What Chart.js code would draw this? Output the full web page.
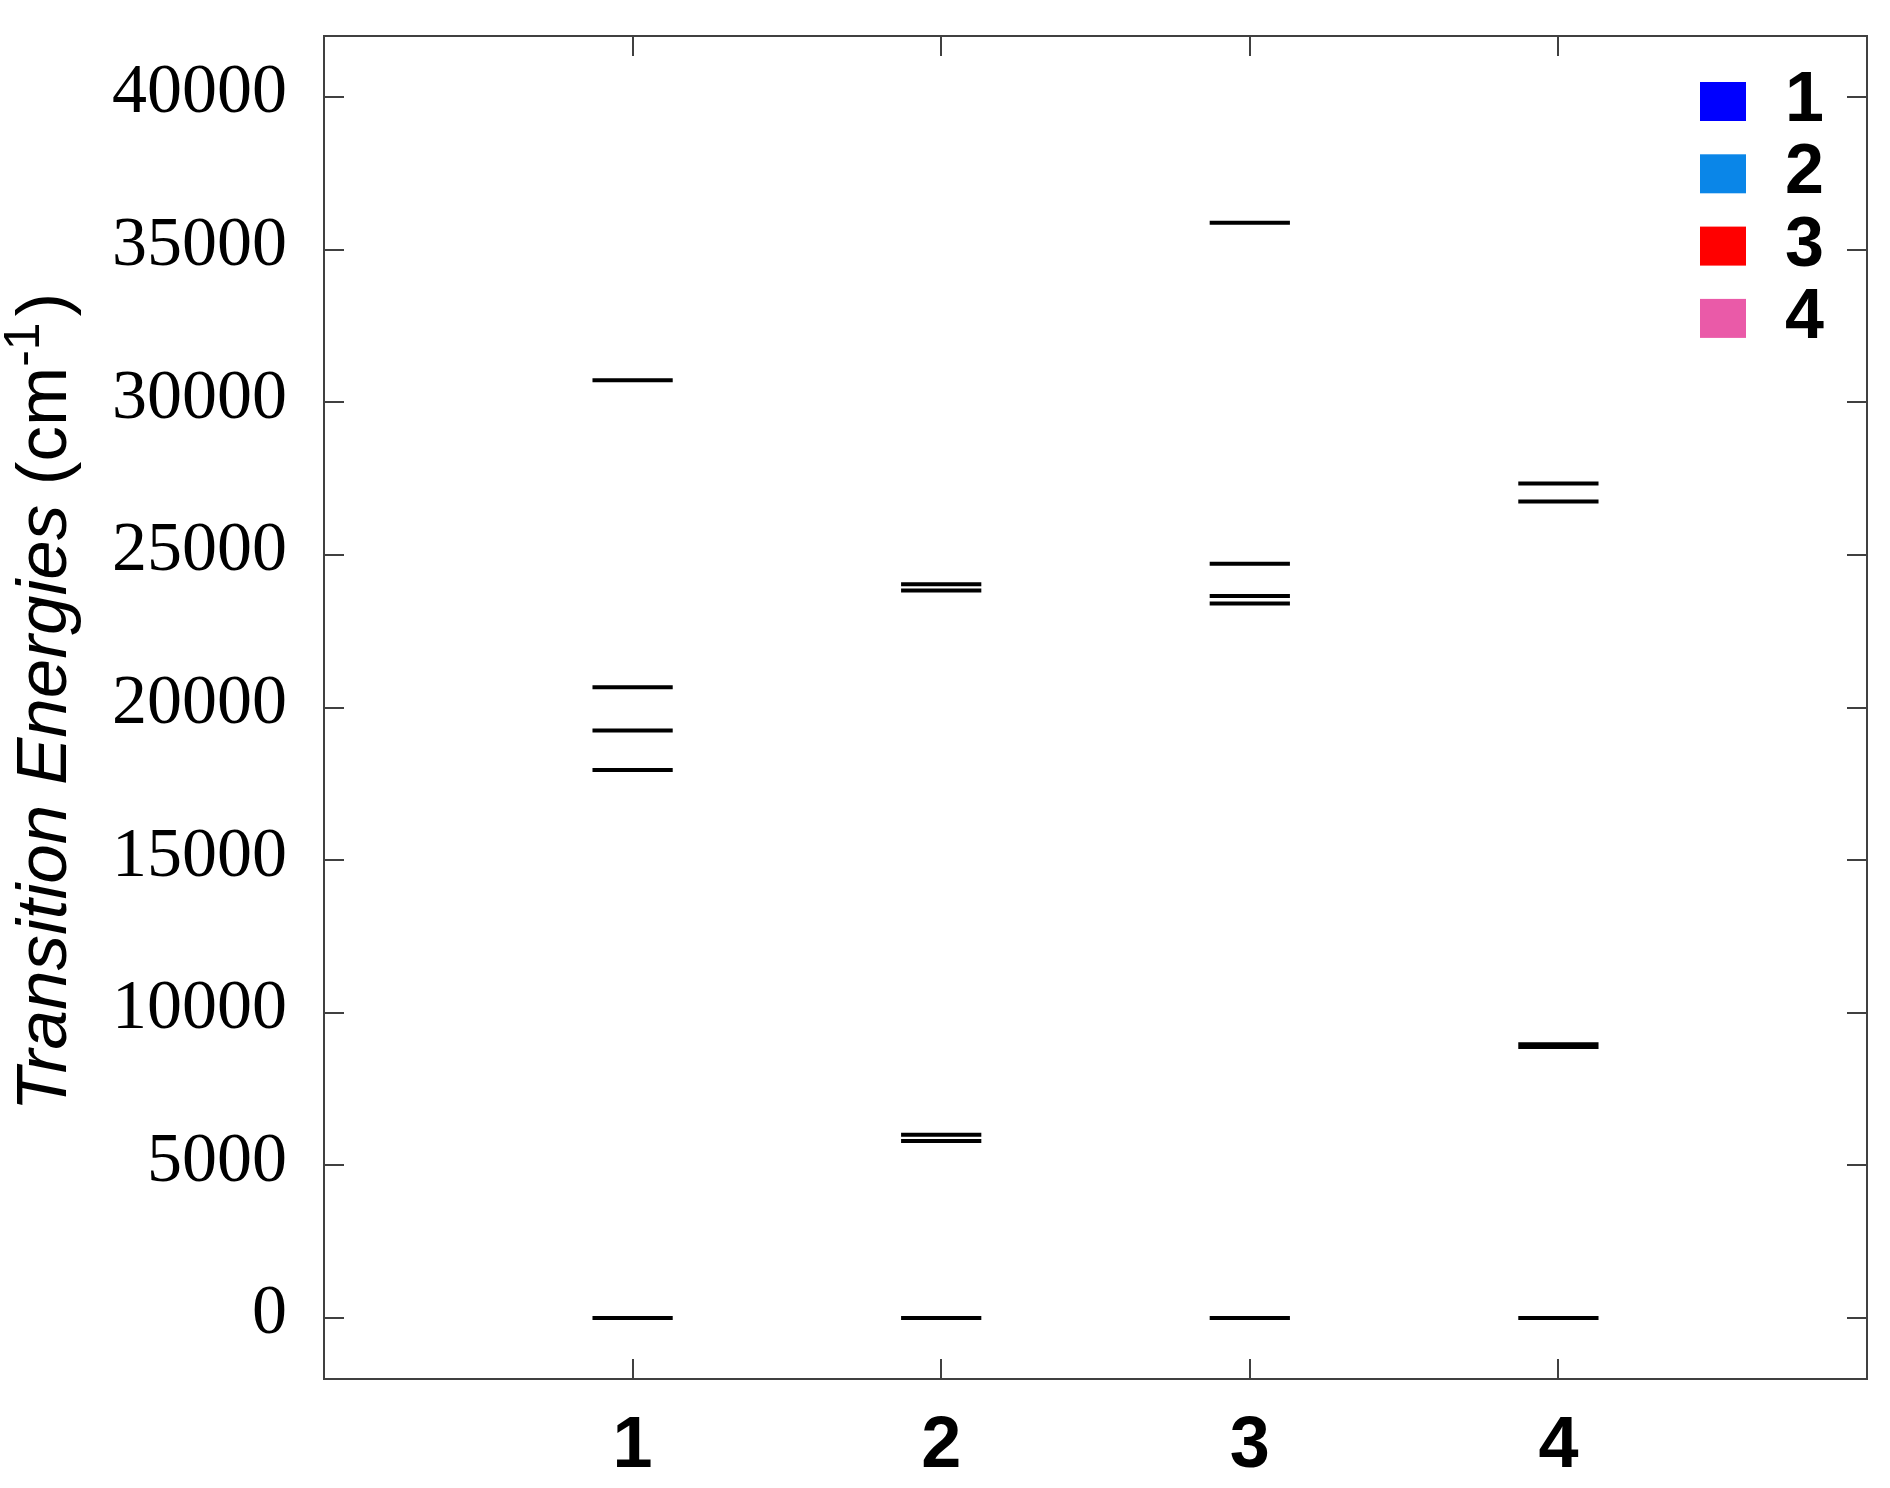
<!DOCTYPE html>
<html><head><meta charset="utf-8">
<script src="https://cdn.jsdelivr.net/npm/chart.js@4.4.1/dist/chart.umd.min.js"></script>
<style>html,body{margin:0;padding:0;background:#fff}canvas{display:block}</style>
</head><body>
<canvas id="c" width="1890" height="1488"></canvas>
<script>
// ---- data ----
const categories = ['1', '2', '3', '4'];
const xTickValues = [1, 2, 3, 4];
const yTickValues = [0, 5000, 10000, 15000, 20000, 25000, 30000, 35000, 40000];
const levels1 = [0, 17950, 19250, 20660, 30720];
const levels2 = [0, 5800, 6000, 23830, 24040];
const levels3 = [0, 23410, 23650, 24710, 35880];
const levels4 = [0, 8880, 8970, 26750, 27340];
const seriesLabels = ['1', '2', '3', '4'];
const seriesColors = ['#0000ff', '#0a86e8', '#ff0000', '#ea5aa8'];
const yTitleMain = 'Transition Energies';
const yTitleUnit = ' (cm';
const yTitleSup = '-1';
const yTitleEnd = ')';

const allLevels = [levels1, levels2, levels3, levels4];
const HALF = 0.13; // half width of a level line, in x units

function levelPoints(xc, vals) {
  const pts = [];
  vals.forEach(v => {
    pts.push({x: xc - HALF, y: v});
    pts.push({x: xc + HALF, y: v});
    pts.push({x: xc, y: null});
  });
  return pts;
}

const datasets = allLevels.map((vals, i) => ({
  label: seriesLabels[i],
  legendColor: seriesColors[i],
  data: levelPoints(xTickValues[i], vals),
  showLine: true,
  spanGaps: false,
  borderColor: '#000',
  borderWidth: 4,
  pointRadius: 0,
  pointHoverRadius: 0,
  borderCapStyle: 'butt'
}));

const framePlugin = {
  id: 'frame',
  afterDraw(chart) {
    const {ctx, chartArea: a, scales: {x, y}} = chart;
    ctx.save();
    ctx.strokeStyle = '#404040';
    ctx.lineWidth = 2;
    ctx.strokeRect(a.left, a.top, a.right - a.left, a.bottom - a.top);
    ctx.beginPath();
    const TL = 20;
    x.ticks.forEach(t => {
      const px = Math.round(x.getPixelForValue(t.value));
      ctx.moveTo(px, a.bottom); ctx.lineTo(px, a.bottom - TL);
      ctx.moveTo(px, a.top); ctx.lineTo(px, a.top + TL);
    });
    y.ticks.forEach(t => {
      const py = Math.round(y.getPixelForValue(t.value));
      ctx.moveTo(a.left, py); ctx.lineTo(a.left + TL, py);
      ctx.moveTo(a.right, py); ctx.lineTo(a.right - TL, py);
    });
    ctx.stroke();
    ctx.restore();
  }
};

const legendPlugin = {
  id: 'customLegend',
  afterDraw(chart) {
    const {ctx, chartArea: a} = chart;
    ctx.save();
    const boxW = 46, boxH = 39, step = 72.3;
    const boxX = a.right - 167;
    const firstBottom = a.top + 85;
    ctx.font = 'bold 70px "Liberation Sans", Arial, sans-serif';
    ctx.textAlign = 'left';
    ctx.textBaseline = 'alphabetic';
    chart.data.datasets.forEach((ds, i) => {
      const bottom = firstBottom + i * step;
      ctx.fillStyle = ds.legendColor;
      ctx.fillRect(boxX, bottom - boxH, boxW, boxH);
      ctx.fillStyle = '#000';
      ctx.fillText(ds.label, boxX + 85, bottom);
    });
    ctx.restore();
  }
};

const yTitlePlugin = {
  id: 'yTitle',
  afterDraw(chart) {
    const {ctx} = chart;
    const cy = 702, baseX = 66;
    const fItal = 'italic 71px "Liberation Sans", Arial, sans-serif';
    const fNorm = '71px "Liberation Sans", Arial, sans-serif';
    const fSup = '50px "Liberation Sans", Arial, sans-serif';
    ctx.save();
    ctx.fillStyle = '#000';
    ctx.textBaseline = 'alphabetic';
    ctx.textAlign = 'left';
    ctx.font = fItal; const w1 = ctx.measureText(yTitleMain).width;
    ctx.font = fNorm; const w2 = ctx.measureText(yTitleUnit).width;
    ctx.font = fSup; const w3 = ctx.measureText(yTitleSup).width;
    ctx.font = fNorm; const w4 = ctx.measureText(yTitleEnd).width;
    const gap = 6;
    const total = w1 + w2 + w3 + gap + w4;
    ctx.translate(baseX, cy);
    ctx.rotate(-Math.PI / 2);
    let x0 = -total / 2;
    ctx.font = fItal; ctx.fillText(yTitleMain, x0, 0); x0 += w1;
    ctx.font = fNorm; ctx.fillText(yTitleUnit, x0, 0); x0 += w2;
    ctx.font = fSup; ctx.fillText(yTitleSup, x0, -27); x0 += w3 + gap;
    ctx.font = fNorm; ctx.fillText(yTitleEnd, x0, 0);
    ctx.restore();
  }
};

new Chart(document.getElementById('c'), {
  type: 'scatter',
  data: {datasets},
  options: {
    responsive: false,
    animation: false,
    devicePixelRatio: 1,
    layout: {padding: {left: 0, right: 23, top: 36, bottom: 0}},
    plugins: {legend: {display: false}, tooltip: {enabled: false}},
    events: [],
    scales: {
      x: {
        type: 'linear', min: 0, max: 5,
        afterBuildTicks: s => { s.ticks = xTickValues.map(v => ({value: v})); },
        afterFit: s => { s.height = 109; s.paddingLeft = 0; s.paddingRight = 0; },
        grid: {display: false, drawTicks: false},
        border: {display: false},
        ticks: {
          autoSkip: false, maxRotation: 0,
          callback: v => { const k = xTickValues.indexOf(v); return k >= 0 ? categories[k] : ''; },
          font: {family: '"Liberation Sans", Arial, sans-serif', weight: 'bold', size: 72},
          color: '#000', padding: 25
        }
      },
      y: {
        type: 'linear', min: -2000, max: 42000,
        afterBuildTicks: s => { s.ticks = yTickValues.map(v => ({value: v})); },
        afterFit: s => { s.width = 324; s.paddingTop = 0; s.paddingBottom = 0; },
        grid: {display: false, drawTicks: false},
        border: {display: false},
        ticks: {
          autoSkip: false,
          callback: v => String(v),
          font: {family: '"Liberation Serif", "Times New Roman", serif', size: 70},
          color: '#000', padding: 37, labelOffset: -3
        }
      }
    }
  },
  plugins: [framePlugin, legendPlugin, yTitlePlugin]
});
</script>
</body></html>
